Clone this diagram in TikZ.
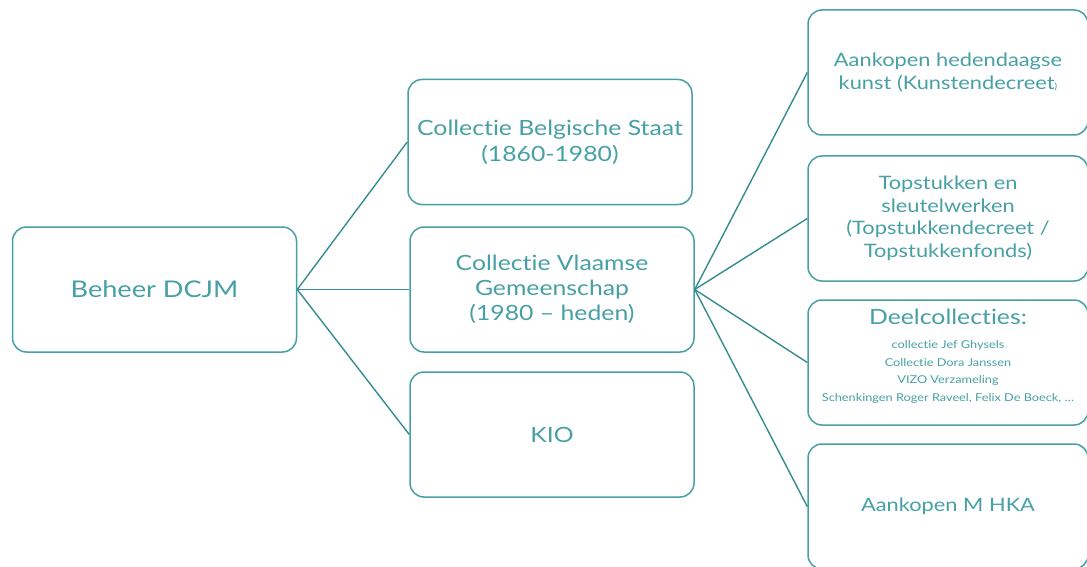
\documentclass[tikz,border=0pt]{standalone}
\usepackage{fontspec}
\setmainfont{Lato}[FakeStretch = 1.18, Ligatures = NoCommon]
\definecolor{tealtext}{RGB}{70, 160, 165}
\definecolor{tealline}{RGB}{52, 140, 146}

\begin{document}
\begin{tikzpicture}[x = 1pt, y = -1pt,
	box/.style = {draw = tealtext, line width = 1.5pt, rounded corners = 14pt, text = tealtext, align = center, inner sep = 0pt, minimum width = 284pt, minimum height = 125pt},
	link/.style = {draw = tealline, line width = 1.4pt}]
			\useasboundingbox (0,0) rectangle (1087,567);
			\node (beheer) at (154.5,289.5) [box, font = \fontsize{23}{30}\selectfont] {Beheer DCJM};
			\node (belgisch) at (550,142) [box, font = \fontsize{21}{26}\selectfont] {Collectie Belgische Staat\\(1860-1980)};
			\node (vlaams) at (552,289.5) [box, font = \fontsize{21}{25}\selectfont] {Collectie Vlaamse\\Gemeenschap\\(1980 -- heden)};
			\node (kio) at (552,434.5) [box, font = \fontsize{21}{25}\selectfont] {KIO};
			\node (hedendaags) at (948,72.5) [box, minimum width = 280pt, font = \fontsize{18.5}{22.5}\selectfont] {Aankopen hedendaagse\\kunst (Kunstendecreet{\fontsize{9}{9}\selectfont )}};
			\node (topstukken) at (948,218.5) [box, minimum width = 280pt, font = \fontsize{18.5}{22.5}\selectfont] {Topstukken en\\sleutelwerken\\(Topstukkendecreet /\\Topstukkenfonds)};
			\node (deel) at (948,362.5) [box, minimum width = 280pt] {};
			\node (deeltitel) at (948,317) [text = tealtext, font = \fontsize{21}{25}\selectfont] {Deelcollecties:};
			\node (deellijst) at (948,372) [text = tealtext, align = center, font = \fontsize{10.8}{17.5}\selectfont] {collectie Jef Ghysels\\Collectie Dora Janssen\\VIZO Verzameling\\Schenkingen Roger Raveel, Felix De Boeck, \dots};
			\node (mhka) at (948,506.5) [box, minimum width = 280pt, font = \fontsize{18.5}{22.5}\selectfont] {Aankopen M HKA};
			\draw[link] (beheer.east) edge (belgisch.west);
			\draw[link] (beheer.east) edge (vlaams.west);
			\draw[link] (beheer.east) edge (kio.west);
			\draw[link] (vlaams.east) edge (hedendaags.west);
			\draw[link] (vlaams.east) edge (topstukken.west);
			\draw[link] (vlaams.east) edge (deel.west);
			\draw[link] (vlaams.east) edge (mhka.west);
			\end{tikzpicture}
\end{document}
